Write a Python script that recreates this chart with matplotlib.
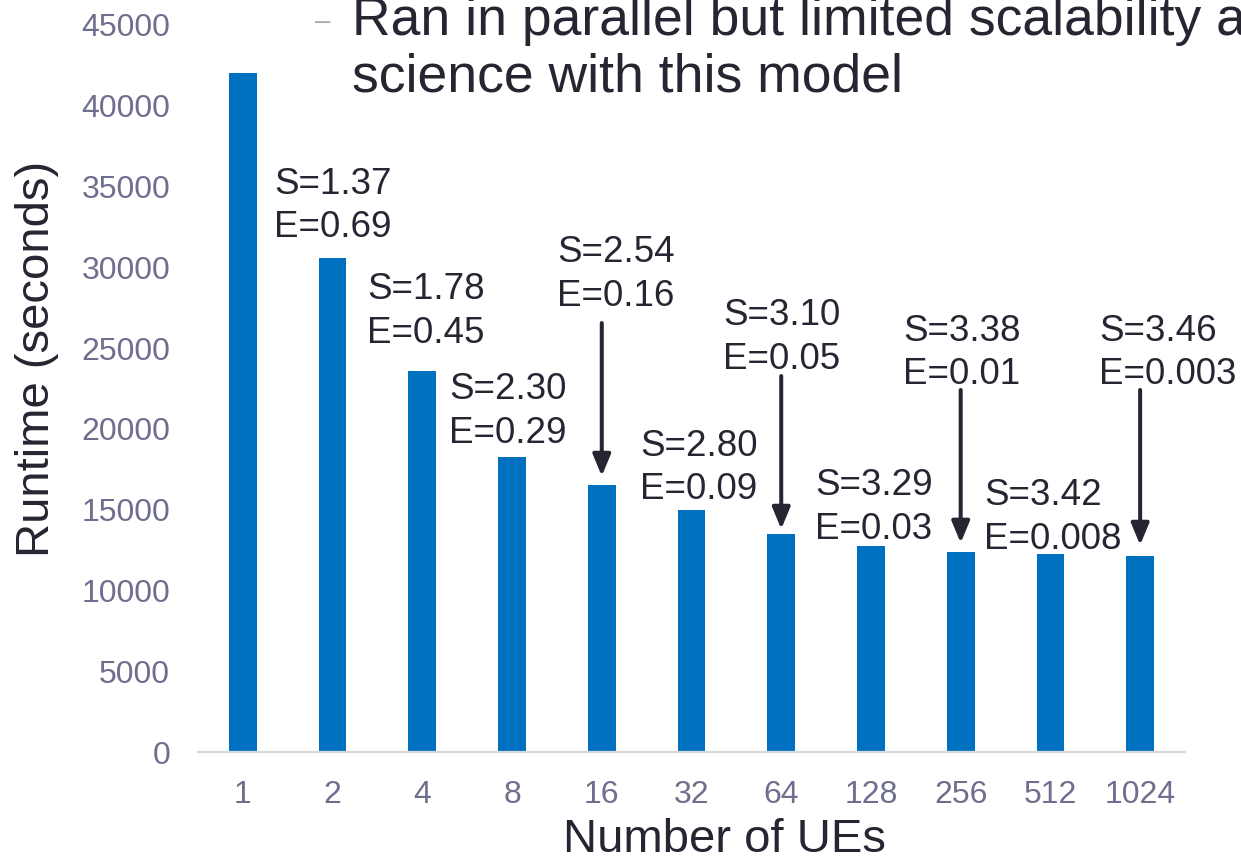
import matplotlib
matplotlib.use("Agg")
import matplotlib.pyplot as plt

plt.rcParams["font.family"] = ["Liberation Sans", "DejaVu Sans"]

# data
ues = ["1", "2", "4", "8", "16", "32", "64", "128", "256", "512", "1024"]
runtime = [42000, 30600, 23600, 18250, 16500, 15000, 13500, 12750, 12400, 12250, 12150]
speedup = ["1.37", "1.78", "2.30", "2.54", "2.80", "3.10", "3.29", "3.38", "3.42", "3.46"]
efficiency = ["0.69", "0.45", "0.29", "0.16", "0.09", "0.05", "0.03", "0.01", "0.008", "0.003"]

# where each S/E label sits (left x in bar units, baseline of the S line)
label_x = [0.345, 1.382, 2.296, 3.500, 4.425, 5.350, 6.376, 7.357, 8.260, 9.542]
label_y = [34570, 28010, 21820, 30300, 18350, 26400, 15880, 25470, 15260, 25470]

# arrows pointing down at some of the bars: (bar index, start y, tip y)
arrow_bar = [4, 6, 8, 10]
arrow_start = [26550, 23270, 22410, 22410]
arrow_tip = [17080, 13800, 12940, 12810]

bar_color = "#0070c0"
tick_color = "#6e6e8e"
text_color = "#262633"

fig = plt.figure(figsize=(12.41, 8.61), dpi=100)
ax = fig.add_axes([198 / 1241, 1 - 752 / 861, 987 / 1241, 727 / 861])

x = list(range(len(ues)))
ax.bar(x, runtime, width=0.31, color=bar_color, zorder=2)

ax.set_xlim(-0.5, len(ues) - 0.5)
ax.set_ylim(0, 45000)
ax.set_xticks(x)
ax.set_xticklabels(ues)
ax.set_yticks(range(0, 45001, 5000))
ax.tick_params(axis="both", length=0, labelsize=23, labelcolor=tick_color, pad=20)

for side in ["top", "right", "left"]:
    ax.spines[side].set_visible(False)
ax.spines["bottom"].set_color("#d9d9d9")
ax.spines["bottom"].set_linewidth(1.6)

ax.set_xlabel("Number of UEs", fontsize=34, color=text_color)
ax.xaxis.set_label_coords(0.533, -0.121)
ax.set_ylabel("Runtime (seconds)", fontsize=34, color=text_color)
ax.yaxis.set_label_coords(-0.163, 0.54)
ax.xaxis.label.set_va("center")
ax.yaxis.label.set_va("center")

# S / E labels
for i in range(len(speedup)):
    ax.text(label_x[i], label_y[i], "S=" + speedup[i], fontsize=26.5,
            color=text_color, ha="left", va="baseline")
    ax.annotate("E=" + efficiency[i], xy=(label_x[i], label_y[i]),
                xytext=(0, -31.5), textcoords="offset points",
                fontsize=26.5, color=text_color, ha="left", va="baseline")

for b, y0, y1 in zip(arrow_bar, arrow_start, arrow_tip):
    ax.annotate("", xy=(b, y1), xytext=(b, y0),
                arrowprops=dict(arrowstyle="-|>,head_width=0.27,head_length=0.65",
                                mutation_scale=20, lw=2.9, color=text_color,
                                shrinkA=0, shrinkB=0))

# slide text behind the chart (cut off by the picture edge, as in the source)
fig.text(315 / 1241, 1 - 22 / 861, "\u2013", fontsize=20, color="#9fae9f",
         ha="left", va="center")
fig.text(352 / 1241, 1 - 35 / 861, "Ran in parallel but limited scalability a",
         fontsize=38.5, color=text_color, ha="left", va="baseline")
fig.text(352 / 1241, 1 - 91 / 861, "science with this model",
         fontsize=38.5, color=text_color, ha="left", va="baseline")

fig.savefig("out.png", dpi=100)
